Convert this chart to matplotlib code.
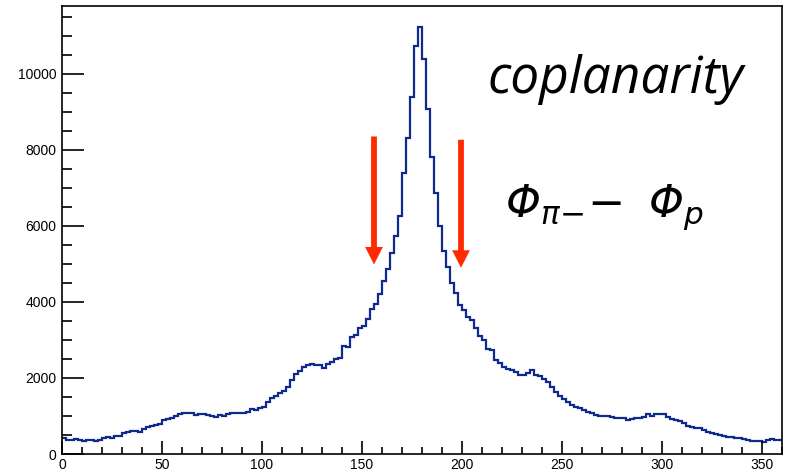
import numpy as np
import matplotlib
matplotlib.use("Agg")
import matplotlib.pyplot as plt
from matplotlib.ticker import MultipleLocator

# coplanarity histogram, 2 degree bins from 0 to 360
bin_lo = 0
bin_hi = 360
bin_w = 2
counts = [
    411, 380, 365, 385, 375, 350, 360, 367, 350, 380,
    420, 455, 425, 472, 465, 540, 575, 600, 604, 570,
    650, 700, 740, 770, 800, 890, 930, 936, 1010, 1045,
    1070, 1085, 1085, 1030, 1040, 1045, 1020, 1006, 985, 1020,
    1010, 1040, 1067, 1075, 1085, 1090, 1110, 1172, 1155, 1199,
    1243, 1374, 1479, 1522, 1592, 1662, 1767, 1960, 2117, 2187,
    2292, 2336, 2362, 2350, 2336, 2275, 2380, 2420, 2511, 2537,
    2835, 2820, 3079, 3123, 3325, 3360, 3562, 3814, 3937, 4218,
    4549, 4874, 5294, 5730, 6273, 7383, 8302, 9396, 10743, 11226,
    10386, 9073, 7822, 6870, 6010, 5328, 4916, 4490, 4234, 3911,
    3800, 3600, 3535, 3325, 3097, 3010, 2774, 2740, 2485, 2397,
    2280, 2225, 2215, 2170, 2073, 2073, 2120, 2222, 2073, 2047,
    1985, 1898, 1767, 1636, 1522, 1435, 1374, 1290, 1242, 1216,
    1160, 1111, 1075, 1024, 1006, 1006, 997, 980, 950, 960,
    936, 890, 915, 940, 955, 965, 1050, 1003, 1045, 1045,
    1045, 962, 925, 900, 870, 820, 745, 705, 695, 685,
    640, 590, 560, 535, 510, 472, 455, 445, 425, 430,
    400, 367, 350, 350, 330, 305, 380, 385, 375, 367,
]

# cut markers: x position, arrow top, arrow tip
cut_x = [156, 199.5]
cut_top = [8354, 8268]
cut_tip = [4987, 4900]

label_main = "coplanarity"
label_var = r"$\Phi_{\pi{-}}\!-\ \Phi_{p}$"

plt.rcParams['font.family'] = ['Liberation Sans', 'DejaVu Sans']
# slanted maths, Greek capitals included
plt.rcParams['mathtext.fontset'] = 'custom'
plt.rcParams['mathtext.rm'] = 'DejaVu Sans:italic'
plt.rcParams['mathtext.it'] = 'DejaVu Sans:italic'
plt.rcParams['mathtext.sf'] = 'DejaVu Sans:italic'

fig = plt.figure(figsize=(7.9, 4.76), dpi=100)
ax = fig.add_axes([62 / 790, 1 - 454 / 476, 720 / 790, 448 / 476])

edges = np.arange(bin_lo, bin_hi + bin_w, bin_w)
ax.stairs(counts, edges, baseline=None, color="#0d2a8c", linewidth=1.6)

ax.set_xlim(bin_lo, bin_hi)
ax.set_ylim(0, max(counts) * 1.05)

ax.xaxis.set_major_locator(MultipleLocator(50))
ax.xaxis.set_minor_locator(MultipleLocator(10))
ax.yaxis.set_major_locator(MultipleLocator(2000))
ax.yaxis.set_minor_locator(MultipleLocator(500))

ax.tick_params(axis="both", which="both", direction="in", colors="black",
               labelsize=10, width=1.2)
ax.tick_params(axis="y", which="major", length=15.5, pad=4)
ax.tick_params(axis="y", which="minor", length=7.5)
ax.tick_params(axis="x", which="major", length=9.5, pad=3)
ax.tick_params(axis="x", which="minor", length=5)
ax.tick_params(top=False, right=False, which="both")

for s in ax.spines.values():
    s.set_linewidth(1.2)
    s.set_color("black")

# red arrows marking the cut window
for x, top, tip in zip(cut_x, cut_top, cut_tip):
    ax.arrow(x, top, 0, tip - top, width=2.9, head_width=8.9,
             head_length=460, length_includes_head=True,
             color="#ff2a00", linewidth=0)

ax.text(277, 9500, label_main, fontsize=37, style="italic",
        family=["Open Sans", "DejaVu Sans"], ha="center", va="baseline")
ax.text(221.5, 6250, label_var, fontsize=32, ha="left", va="baseline")

fig.savefig("out.png", dpi=100)
